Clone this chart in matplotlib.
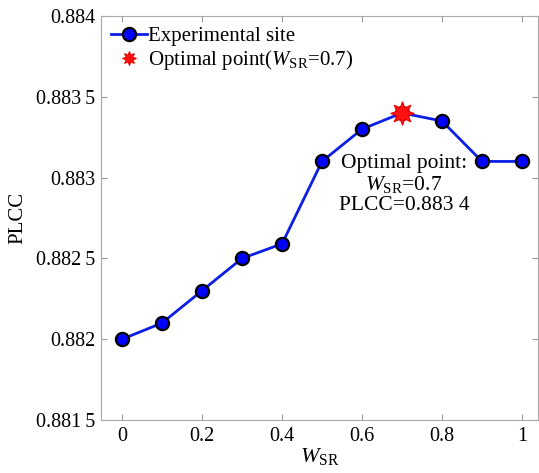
import matplotlib
matplotlib.use('Agg')
import matplotlib.pyplot as plt

plt.rcParams['font.family'] = ['Liberation Serif', 'DejaVu Serif']
plt.rcParams['mathtext.fontset'] = 'custom'
plt.rcParams['mathtext.rm'] = 'Liberation Serif'
plt.rcParams['mathtext.it'] = 'Liberation Serif:italic'

w_sr = [0, 0.1, 0.2, 0.3, 0.4, 0.5, 0.6, 0.7, 0.8, 0.9, 1.0]
plcc = [0.8820, 0.8821, 0.8823, 0.8825, 0.88259, 0.8831, 0.8833, 0.8834, 0.88335, 0.8831, 0.8831]
best_x = 0.7
best_y = 0.8834

x_ticks = [0, 0.2, 0.4, 0.6, 0.8, 1]
x_labels = ['0', '0.2', '0.4', '0.6', '0.8', '1']
y_ticks = [0.8815, 0.882, 0.8825, 0.883, 0.8835, 0.884]
y_labels = ['0.881\u20095', '0.882', '0.882\u20095', '0.883', '0.883\u20095', '0.884']

fig = plt.figure(figsize=(5.39, 4.73), dpi=100)
ax = fig.add_axes([101 / 539, 1 - 420 / 473, 437 / 539, 404 / 473])

ax.plot(w_sr, plcc, '-o', color='#0a1ee6', linewidth=2, markersize=9.5,
        markerfacecolor='#0000ff', markeredgecolor='black', markeredgewidth=1.6,
        label='Experimental site')
ax.plot([best_x], [best_y], linestyle='none', marker=(8, 1, 0), color='#ff1010',
        markersize=17, markeredgewidth=0.8, markeredgecolor='#ee0000',
        label=r'Optimal point($W_{\mathrm{SR}}$=0.7)')

ax.text(best_x + 0.005, 0.882955, 'Optimal point:\n' + r'$W_{\mathrm{SR}}$=0.7' + '\nPLCC=0.883 4',
        ha='center', va='center', fontsize=15.5, linespacing=1.06)

ax.set_xlim(-0.0525, 1.04)
ax.set_ylim(0.8815, 0.884)
ax.set_xticks(x_ticks)
ax.set_xticklabels(x_labels)
ax.set_yticks(y_ticks)
ax.set_yticklabels(y_labels)
ax.tick_params(direction='in', top=True, right=True, labelsize=14.5, color='#999999',
               length=4)
ax.tick_params(axis='y', pad=4)
ax.tick_params(axis='x', pad=5)
for s in ax.spines.values():
    s.set_color('#aaaaaa')

ax.set_xlabel(r'$W_{\mathrm{SR}}$', fontsize=16, labelpad=0)
ax.set_ylabel('PLCC', fontsize=15, labelpad=6)

leg = ax.legend(loc='upper left', frameon=False, fontsize=15, handlelength=1.7,
                handletextpad=0.05, borderaxespad=0.2, labelspacing=0.1, borderpad=0.3)
leg.legend_handles[1].set_markersize(10)

fig.savefig('out.png', dpi=100)
